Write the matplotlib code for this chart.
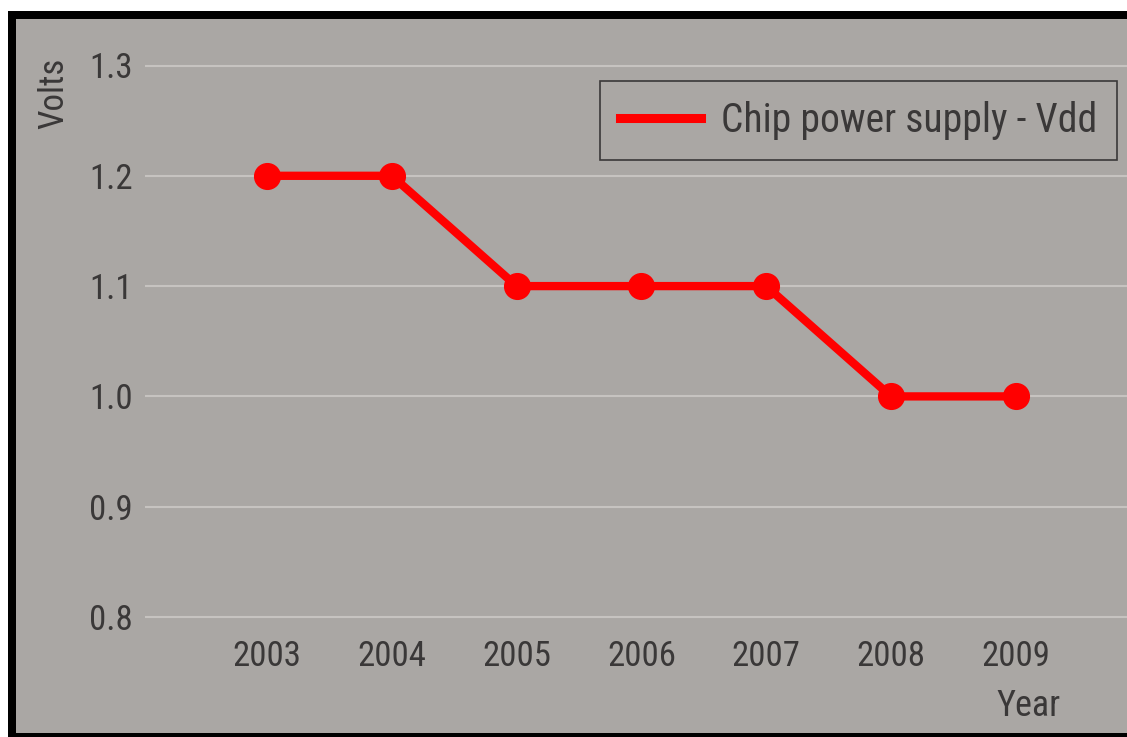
import matplotlib
matplotlib.use("Agg")
import matplotlib.pyplot as plt
from matplotlib.patches import Rectangle
from matplotlib import font_manager

years = [2003, 2004, 2005, 2006, 2007, 2008, 2009]
volts = [1.2, 1.2, 1.1, 1.1, 1.1, 1.0, 1.0]
yticks = [0.8, 0.9, 1.0, 1.1, 1.2, 1.3]
series_label = "Chip power supply - Vdd"

names = {f.name for f in font_manager.fontManager.ttflist}
fam = None
for cand in ['Liberation Sans Narrow', 'Roboto Condensed', 'DejaVu Sans Condensed', 'Open Sans Condensed', 'Roboto']:
    if cand in names:
        fam = cand
        break
plt.rcParams['font.family'] = [fam or 'DejaVu Sans', 'DejaVu Sans']

W, H = 1127, 737
bg = '#aaa7a4'
txt = '#3a3838'
fig = plt.figure(figsize=(W/100, H/100), dpi=100, facecolor='white')

fig.patches.append(Rectangle((16/W, 0), 1 - 16/W, (H - 19)/H, transform=fig.transFigure,
                             facecolor=bg, edgecolor='none', zorder=-3))
fig.patches.append(Rectangle((8/W, (H - 19)/H), 1, 8/H, transform=fig.transFigure,
                             facecolor='black', edgecolor='none', zorder=-2))
fig.patches.append(Rectangle((8/W, 0), 8/W, (H - 11)/H, transform=fig.transFigure,
                             facecolor='black', edgecolor='none', zorder=-2))
fig.patches.append(Rectangle((8/W, 0), 1, 4/H, transform=fig.transFigure,
                             facecolor='black', edgecolor='none', zorder=-2))

left_px, right_px = 145, 1127
top_px, bot_px = 22, 640
ax = fig.add_axes([left_px/W, (H - bot_px)/H, (right_px - left_px)/W, (bot_px - top_px)/H])
ax.set_facecolor('none')

xpp = 124.8
ax.set_xlim(2003 - (267 - left_px)/xpp, 2003 + (right_px - 267)/xpp)
ypp = 1103.0
ax.set_ylim(0.8 - (bot_px - 617)/ypp, 0.8 + (617 - top_px)/ypp)

for s in ax.spines.values():
    s.set_visible(False)
ax.set_yticks(yticks)
ax.set_yticklabels([f"{v:.1f}" for v in yticks])
ax.set_xticks(years)
ax.set_xticklabels([str(y) for y in years])
ax.tick_params(axis='both', length=0, labelsize=25, colors=txt)
ax.tick_params(axis='y', pad=9)
ax.tick_params(axis='x', pad=0)
ax.grid(axis='y', color='#c6c3c0', linewidth=1.5)
ax.grid(axis='x', visible=False)
ax.set_axisbelow(True)

ax.plot(years, volts, color='#ff0000', linewidth=6, marker='o', markersize=18.5,
        label=series_label, zorder=3)

leg = ax.legend(loc='upper right', bbox_to_anchor=((1117 - left_px)/(right_px - left_px), 1 - (81 - top_px)/(bot_px - top_px)),
                fontsize=28.5, frameon=True, fancybox=False, facecolor=bg, edgecolor='#3a3838',
                handlelength=2.05, borderpad=0.5, handletextpad=0.5, borderaxespad=0, framealpha=1)
leg.get_frame().set_linewidth(1.2)
for t in leg.get_texts():
    t.set_color(txt)
for h in leg.legend_handles:
    h.set_marker('')
    h.set_linewidth(6.5)

fig.text(54/W, 1 - 93/H, "Volts", rotation=90, ha='center', va='center', fontsize=25, color=txt)
fig.text(1028/W, 1 - 706/H, "Year", ha='center', va='center', fontsize=26, color=txt)

fig.savefig('out.png', dpi=100, facecolor='white')
